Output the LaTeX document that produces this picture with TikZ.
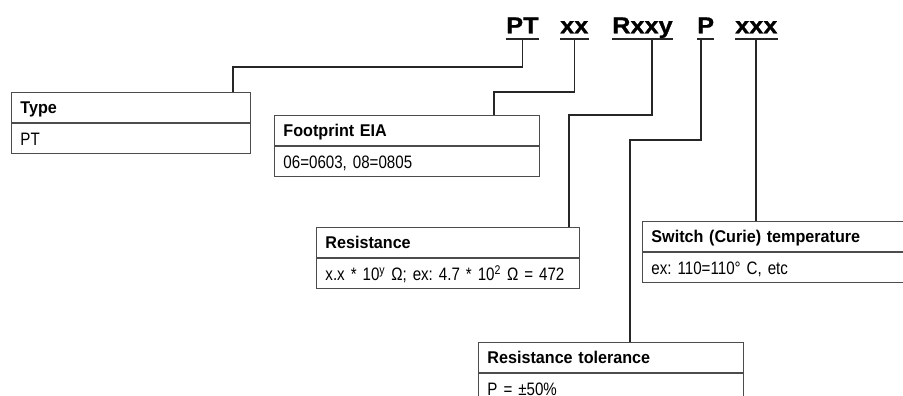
\documentclass[tikz,border=0pt]{standalone}
\usepackage{fontspec}
\setmainfont{Liberation Sans}
\newfontfamily\bodyfont{Liberation Sans}[FakeStretch=0.84]
\newfontfamily\hdrfont{Liberation Sans}[FakeStretch=0.95]
\newfontfamily\titlefont{Liberation Sans}[FakeStretch=1.1, FakeBold=1]
\usetikzlibrary{calc}
\frenchspacing
\tikzset{
  hdr/.style={draw=black!70, line width=0.9pt, anchor=north west, inner xsep=9pt, inner ysep=7.5pt,
    text height=13.5pt, text depth=1.5pt, align=left, font=\fontsize{17}{19}\selectfont\hdrfont\bfseries},
  bodyrow/.style={draw=black!70, line width=0.9pt, anchor=north west, inner xsep=9pt, inner ysep=7.5pt,
    text height=15pt, text depth=0pt, align=left, font=\fontsize{18}{20}\selectfont\bodyfont},
  conn/.style={draw=black!85, line width=1.4pt},
  ttl/.style={anchor=base west, inner sep=0pt, font=\fontsize{23}{26}\selectfont\titlefont\bfseries},
  uline/.style={draw=black!85, line width=2pt}
}
\begin{document}
\begin{tikzpicture}[x=1pt,y=-1pt]
\useasboundingbox (0,0) rectangle (903,396);
\clip (0,0) rectangle (903,396);

% title words
\node[ttl] (pt)   at (506,33.3) {PT};
\node[ttl] (xx)   at (560,33.3) {xx};
\node[ttl] (rxxy) at (612,33.3) {Rxxy};
\node[ttl] (p)    at (697,33.3) {P};
\node[ttl] (xxx)  at (735,33.3) {xxx};
\foreach \w in {pt,xx,rxxy,p,xxx}{
  \draw[uline] ($(\w.base west)+(0,6)$) -- ($(\w.base east)+(0,6)$);
}

% boxes
\node[hdr, text width=221pt] (typeH) at (11,92) {Type};
\node[bodyrow, text width=221pt] (typeB) at (typeH.south west) {PT};

\node[hdr, text width=247pt] (fpH) at (274,115) {Footprint EIA};
\node[bodyrow, text width=247pt] (fpB) at (fpH.south west) {06=0603, 08=0805};

\node[hdr, text width=245pt] (resH) at (316,227) {Resistance};
\node[bodyrow, text width=245pt] (resB) at (resH.south west) {x.x * 10\textsuperscript{y} Ω; ex: 4.7 * 10\textsuperscript{2} Ω = 472};

\node[hdr, text width=247pt] (swH) at (642,221) {Switch (Curie) temperature};
\node[bodyrow, text width=247pt] (swB) at (swH.south west) {ex: 110=110° C, etc};

\node[hdr, text width=247pt] (tolH) at (478,342) {Resistance tolerance};
\node[bodyrow, text width=247pt] (tolB) at (tolH.south west) {P = ±50\%};

% junctions
\coordinate (j1) at (233,67);
\coordinate (j2) at (494,92);
\coordinate (j3) at (569,115);
\coordinate (j4) at (630,140);

% connectors
\draw[conn] ($(pt.base)+(0,7)$) |- (j1) -- (j1 |- typeH.north);
\draw[conn] ($(xx.base)+(0,7)$) |- (j2) -- (j2 |- fpH.north);
\draw[conn] ($(rxxy.base west)+(40,7)$) |- (j3) -- (j3 |- resH.north);
\draw[conn] ($(p.base west)+(4,7)$) |- (j4) -- (j4 |- tolH.north);
\coordinate (s5) at ($(xxx.base west)+(21,7)$);
\draw[conn] (s5) -- (s5 |- swH.north);
\end{tikzpicture}
\end{document}
